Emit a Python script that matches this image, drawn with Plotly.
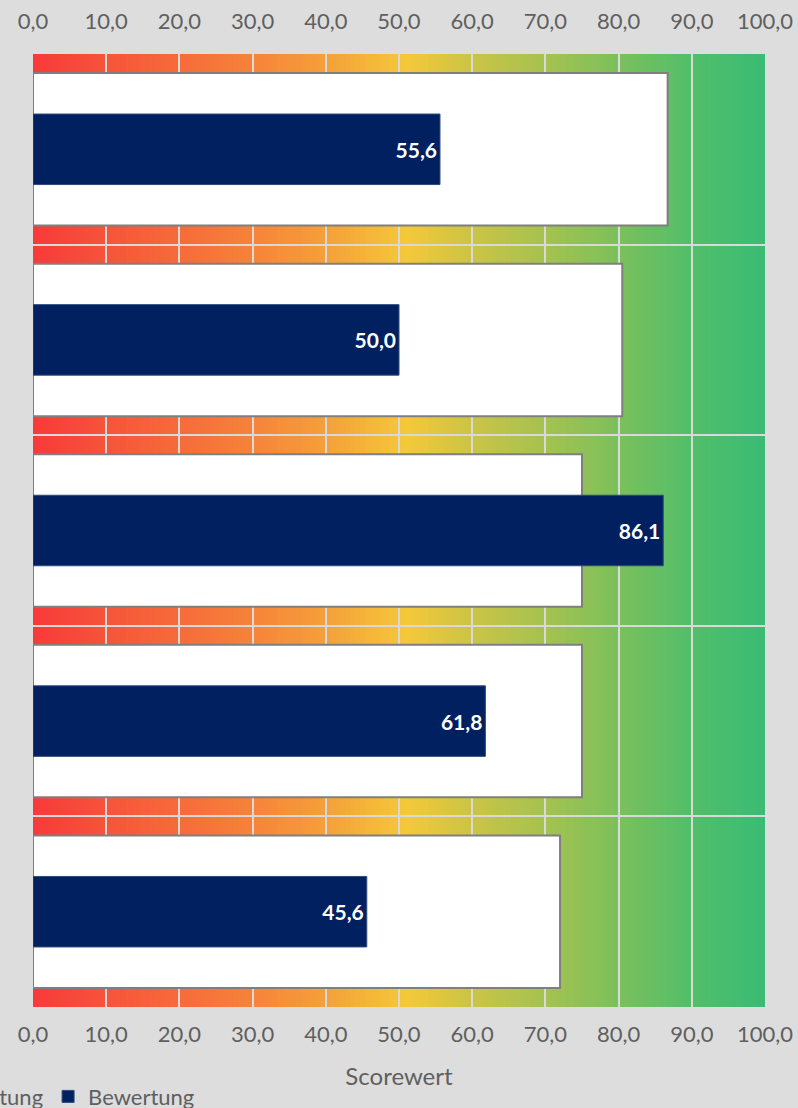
import plotly.graph_objects as go

categories = ["Kriterium 1", "Kriterium 2", "Kriterium 3", "Kriterium 4", "Kriterium 5"]
erwartung = [86.7, 80.5, 75.0, 75.0, 72.0]
bewertung = [55.6, 50.0, 86.1, 61.8, 45.6]
tick_vals = [0, 10, 20, 30, 40, 50, 60, 70, 80, 90, 100]

# background gradient stops (position, rgb)
grad_stops = [
    (0, (248, 58, 58)), (10, (246, 84, 58)), (20, (246, 107, 58)),
    (30, (246, 131, 58)), (40, (245, 160, 58)), (51, (245, 200, 58)),
    (60, (203, 196, 70)), (70, (165, 194, 80)), (80, (123, 192, 92)),
    (90, (82, 190, 106)), (100, (58, 188, 116)),
]


def grad_color(v):
    for (p0, c0), (p1, c1) in zip(grad_stops[:-1], grad_stops[1:]):
        if p0 <= v <= p1:
            t = (v - p0) / (p1 - p0)
            c = [round(a + (b - a) * t) for a, b in zip(c0, c1)]
            return "rgb(%d,%d,%d)" % tuple(c)
    return "rgb(%d,%d,%d)" % grad_stops[-1][1]


FONT = "Lato"
TICKCOL = "#5F5F5F"

fig = go.Figure()
fig.add_trace(go.Bar(
    y=categories, x=erwartung, orientation="h", name="Erwartung",
    width=0.8, marker=dict(color="white", line=dict(color="#7F7F7F", width=2)),
    xaxis="x", yaxis="y",
))
fig.add_trace(go.Bar(
    y=categories, x=bewertung, orientation="h", name="Bewertung",
    width=0.37, marker=dict(color="#002060", line=dict(color="#2E4A7D", width=1)),
    text=bewertung, texttemplate="%{x:.1f}", textposition="inside",
    insidetextanchor="end", textangle=0,
    textfont=dict(family=FONT, size=21, color="white", weight="bold"),
    xaxis="x", yaxis="y",
))
# invisible trace for the top axis
fig.add_trace(go.Scatter(x=[0, 100], y=[categories[0], categories[0]], mode="markers",
                         marker=dict(opacity=0), showlegend=False, hoverinfo="skip",
                         xaxis="x2", yaxis="y"))

shapes = []
n = 150
for i in range(n):
    x0 = 100 * i / n
    x1 = 100 * (i + 1) / n
    shapes.append(dict(type="rect", xref="x", yref="paper", x0=x0,
                       x1=min(100, x1 + 0.4), y0=0, y1=1,
                       fillcolor=grad_color((x0 + x1) / 2),
                       line=dict(width=0), layer="below"))

axis_common = dict(
    range=[0, 100], tickvals=tick_vals, tickformat=".1f",
    showgrid=True, gridcolor="#D9D9D9", gridwidth=2, zeroline=False,
    tickfont=dict(family=FONT, size=22, color=TICKCOL), ticks="",
)

fig.update_layout(
    width=798, height=1108,
    margin=dict(l=33, r=33, t=54, b=101, autoexpand=False),
    paper_bgcolor="#DDDDDD", plot_bgcolor="rgba(0,0,0,0)",
    separators=",.",
    barmode="overlay",
    shapes=shapes,
    xaxis=dict(**axis_common, side="bottom", ticklabelstandoff=12,
               title=dict(text="Scorewert", font=dict(family=FONT, size=24, color=TICKCOL), standoff=22)),
    xaxis2=dict(**axis_common, side="top", overlaying="x", matches="x", ticklabelstandoff=20),
    yaxis=dict(type="category", categoryorder="array", categoryarray=categories,
               autorange="reversed", tickson="boundaries", showgrid=True,
               gridcolor="#D9D9D9", gridwidth=2, showticklabels=False, ticks="",
               zeroline=False),
    legend=dict(orientation="h", x=-0.178, xanchor="left", y=-0.094, yanchor="middle",
                font=dict(family=FONT, size=22, color=TICKCOL), bgcolor="rgba(0,0,0,0)",
                traceorder="normal"),
    showlegend=True,
)

fig.write_html("out.html")
